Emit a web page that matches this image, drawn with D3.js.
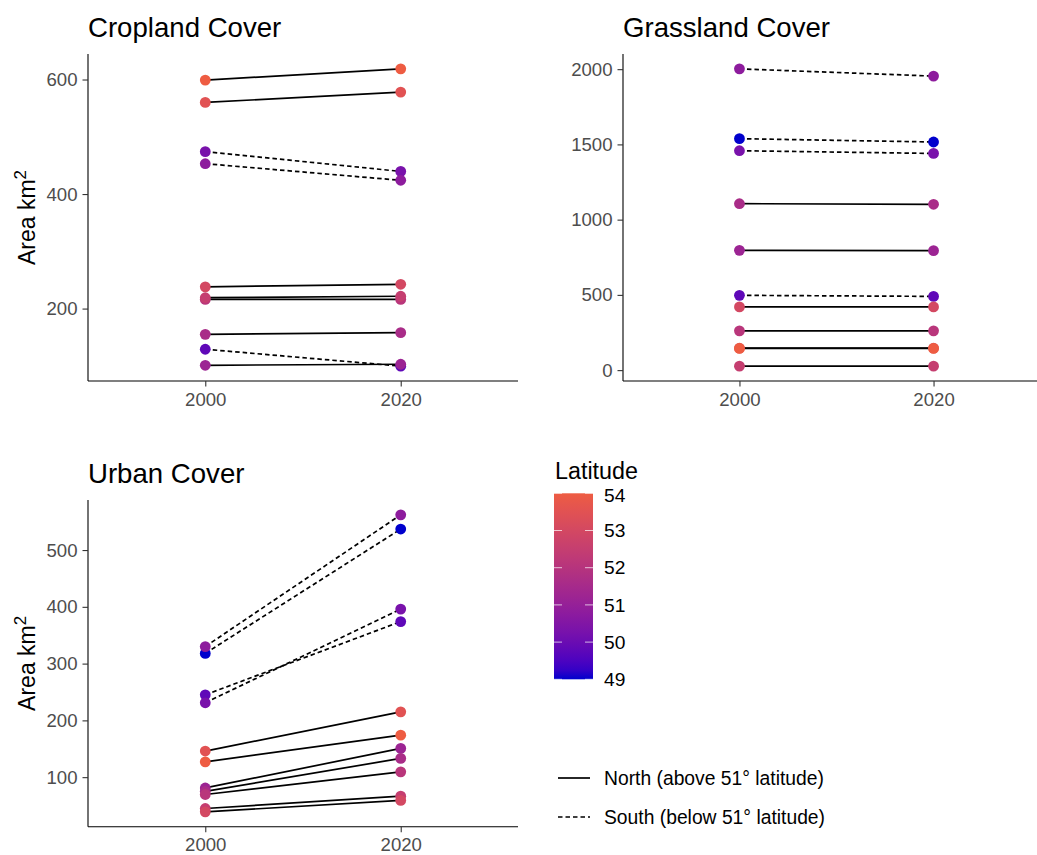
<!DOCTYPE html>
<html>
<head>
<meta charset="utf-8">
<script src="https://cdn.jsdelivr.net/npm/d3@7"></script>
<style>
  body { margin: 0; background: #fff; }
  text { font-family: "Liberation Sans", Arial, Helvetica, sans-serif; }
</style>
</head>
<body>
<div id="chart"></div>
<script>
// regions ordered by latitude (south -> north)
const latitude = [49.0, 49.8, 50.3, 50.8, 51.2, 51.6, 52.1, 52.5, 53.0, 53.5, 54.0];
const years = ["2000", "2020"];

const cropland2000 = [null, 129, 474, 453, 101, 155, 216, 219, 238, 560, 599];
const cropland2020 = [null, 99.5, 439.5, 424, 102.8, 158, 216, 221.5, 242.4, 578, 618.6];
const grassland2000 = [1538, 497, 1458, 2002, 796, 1106, 261, 26.5, 420, 146, 144];
const grassland2020 = [1516, 490, 1440, 1954, 794, 1102, 261, 26.5, 420, 146, 144];
const urban2000 = [318, 245, 231, 330, 81, 75, 69.5, 44.8, 38.9, 146, 127];
const urban2020 = [537, 374, 396, 562, 150.6, 133, 109.4, 66.5, 59, 215, 174];

const cropTicks = [200, 400, 600];
const grassTicks = [0, 500, 1000, 1500, 2000];
const urbanTicks = [100, 200, 300, 400, 500];
const latTicks = [49, 50, 51, 52, 53, 54];

const width = 1037, height = 855;
const svg = d3.select("#chart").append("svg")
    .attr("width", width)
    .attr("height", height);

const color = d3.scaleLinear()
    .domain([49, 54])
    .range(["#0000CD", "#EE5C42"])
    .interpolate(d3.interpolateLab);

const dashed = "4.5,3";

const panels = [
    { title: "Cropland Cover", v0: cropland2000, v1: cropland2020, ticks: cropTicks,
      x0: 88, x1: 518, top: 54, bottom: 381, ylab: true },
    { title: "Grassland Cover", v0: grassland2000, v1: grassland2020, ticks: grassTicks,
      x0: 623, x1: 1050, top: 54, bottom: 381, ylab: false },
    { title: "Urban Cover", v0: urban2000, v1: urban2020, ticks: urbanTicks,
      x0: 88, x1: 518, top: 500, bottom: 826.7, ylab: true }
];

panels.forEach(p => {
    const rows = latitude.map((lat, i) => ({ lat: lat, a: p.v0[i], b: p.v1[i] }))
        .filter(d => d.a != null && d.b != null);
    const all = rows.flatMap(d => [d.a, d.b]);
    const lo = d3.min(all), hi = d3.max(all), pad = (hi - lo) * 0.05;

    const x = d3.scalePoint().domain(years).range([p.x0, p.x1]).padding(0.6);
    const y = d3.scaleLinear().domain([lo - pad, hi + pad]).range([p.bottom, p.top]);

    const g = svg.append("g");

    // lines
    g.selectAll("line.seg")
        .data(rows)
        .enter()
        .append("line")
        .attr("class", "seg")
        .attr("x1", x("2000")).attr("x2", x("2020"))
        .attr("y1", d => y(d.a)).attr("y2", d => y(d.b))
        .attr("stroke", "#000")
        .attr("stroke-width", 1.7)
        .attr("stroke-dasharray", d => d.lat < 51 ? dashed : null);

    // points
    rows.forEach(d => {
        years.forEach((yr, k) => {
            g.append("circle")
                .attr("cx", x(yr))
                .attr("cy", y(k === 0 ? d.a : d.b))
                .attr("r", 5.4)
                .attr("fill", color(d.lat));
        });
    });

    const yAxis = d3.axisLeft(y).tickValues(p.ticks).tickFormat(d3.format("d"))
        .tickSize(5.5).tickSizeOuter(0).tickPadding(5);
    const xAxis = d3.axisBottom(x).tickSize(5.5).tickSizeOuter(0).tickPadding(6);

    const ya = svg.append("g").attr("transform", `translate(${p.x0},0)`).call(yAxis);
    const xa = svg.append("g").attr("transform", `translate(0,${p.bottom})`).call(xAxis);

    [ya, xa].forEach(a => {
        a.select(".domain").attr("stroke", "#000").attr("stroke-width", 1.1);
        a.selectAll(".tick line").attr("stroke", "#333").attr("stroke-width", 1.1);
        a.selectAll(".tick text").attr("fill", "#4D4D4D").style("font-size", "18.6px");
    });
    // make axis lines run exactly across the panel
    ya.select(".domain").attr("d", `M0,${p.top}V${p.bottom}`);
    xa.select(".domain").attr("d", `M${p.x0},0H${p.x1}`);

    svg.append("text")
        .attr("x", p.x0)
        .attr("y", p.top - 17.5)
        .style("font-size", "27.6px")
        .attr("fill", "#000")
        .text(p.title);

    if (p.ylab) {
        const t = svg.append("text")
            .attr("transform", `translate(35,${(p.top + p.bottom) / 2}) rotate(-90)`)
            .attr("text-anchor", "middle")
            .style("font-size", "23px")
            .attr("fill", "#000");
        t.append("tspan").text("Area km");
        t.append("tspan").attr("dy", -9).style("font-size", "17px").text("2");
    }
});

// colour legend
const bar = { x: 554, w: 39, top: 493.3, bottom: 679.3 };
const ly = d3.scaleLinear().domain([49, 54]).range([bar.bottom, bar.top]);

svg.append("text")
    .attr("x", 555).attr("y", 479)
    .style("font-size", "23.3px")
    .attr("fill", "#000")
    .text("Latitude");

const grad = svg.append("defs").append("linearGradient")
    .attr("id", "latgrad")
    .attr("x1", 0).attr("x2", 0).attr("y1", 1).attr("y2", 0);
d3.range(0, 21).forEach(i => {
    const v = 49 + i * 5 / 20;
    grad.append("stop").attr("offset", i / 20).attr("stop-color", color(v));
});
svg.append("rect")
    .attr("x", bar.x).attr("y", bar.top)
    .attr("width", bar.w).attr("height", bar.bottom - bar.top)
    .attr("fill", "url(#latgrad)");

latTicks.forEach(t => {
    [[bar.x, bar.x + 8], [bar.x + bar.w - 8, bar.x + bar.w]].forEach(s => {
        svg.append("line")
            .attr("x1", s[0]).attr("x2", s[1])
            .attr("y1", ly(t)).attr("y2", ly(t))
            .attr("stroke", "#fff").attr("stroke-opacity", 0.7).attr("stroke-width", 1);
    });
    svg.append("text")
        .attr("x", 604).attr("y", ly(t) + (t === 54 ? 2 : 0))
        .attr("dy", "0.35em")
        .style("font-size", "19.2px")
        .attr("fill", "#000")
        .text(t);
});

// linetype legend
const ltypes = [
    { label: "North (above 51\u00B0 latitude)", dash: null, y: 778 },
    { label: "South (below 51\u00B0 latitude)", dash: dashed, y: 817 }
];
ltypes.forEach(d => {
    svg.append("line")
        .attr("x1", 558).attr("x2", 590)
        .attr("y1", d.y).attr("y2", d.y)
        .attr("stroke", "#000").attr("stroke-width", 1.7)
        .attr("stroke-dasharray", d.dash);
    svg.append("text")
        .attr("x", 604).attr("y", d.y)
        .attr("dy", "0.35em")
        .style("font-size", "19.3px")
        .attr("fill", "#000")
        .text(d.label);
});
</script>
</body>
</html>
